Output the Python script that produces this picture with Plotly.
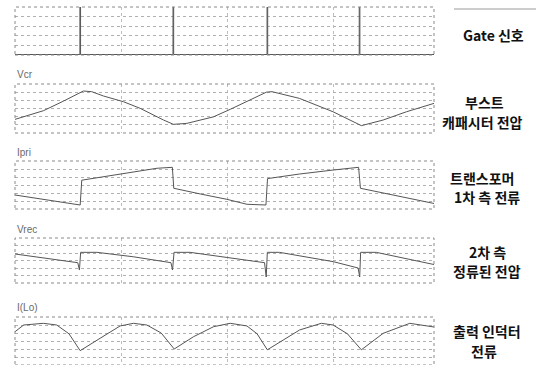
import plotly.graph_objects as go

# ---- data (time in arbitrary units, values in grid divisions) ----
gate_t = [0, 6.97, 6.97, 7.04, 7.04, 16.97, 16.97, 17.04, 17.04, 27.07, 27.07, 27.14, 27.14, 36.97, 36.97, 37.04, 37.04, 45]
gate_v = [0, 0, 5, 5, 0, 0, 5, 5, 0, 0, 5, 5, 0, 0, 5, 5, 0, 0]

vcr_t = [0, 3.05, 5.2, 7.34, 8.24, 9.5, 11.65, 13.44, 15.95, 17.02, 18.46, 21.32, 23.12, 25.27, 27.0, 27.6, 30.54, 34.16, 37.2, 39.54, 42.04, 45.0]
vcr_v = [1.67, 2.73, 3.9, 5.14, 5.06, 4.53, 3.83, 3.02, 1.59, 1.06, 1.18, 1.98, 2.90, 4.04, 5.0, 5.06, 4.24, 2.60, 0.90, 1.59, 2.60, 3.63]

ipri_t = [0, 5.56, 6.74, 7.0, 7.17, 9.14, 12.72, 15.24, 16.9, 17.05, 19.9, 22.76, 24.91, 26.7, 26.95, 27.12, 30.54, 34.16, 36.9, 37.1, 41.3, 44.9, 45]
ipri_v = [1.75, 0.71, 0.5, 0.5, 3.6, 3.96, 4.66, 5.09, 5.21, 2.59, 1.88, 1.21, 0.59, 0.5, 0.5, 3.8, 4.37, 4.87, 5.21, 2.59, 1.54, 0.71, 0.69]

vrec_t = [0, 6.74, 6.92, 7.05, 8.8, 12.7, 16.75, 16.92, 17.08, 18.8, 22.8, 26.8, 26.98, 27.1, 28.4, 34.2, 36.85, 37.02, 37.12, 38.8, 44.9, 45]
vrec_v = [3.87, 2.71, 1.73, 4.09, 4.09, 3.5, 2.71, 1.73, 4.09, 4.09, 3.4, 2.71, 0.8, 4.09, 4.09, 2.84, 2.0, 0.8, 4.09, 4.09, 2.49, 2.46]

ilo_t = [0, 0.93, 3.05, 4.48, 5.8, 7.0, 9.14, 11.29, 12.72, 14.16, 15.7, 17.1, 19.18, 21.33, 23.12, 24.91, 26.0, 27.1, 30.57, 32.9, 34.16, 35.7, 37.2, 39.54, 42.4, 44.55, 45]
ilo_v = [4.16, 5.0, 5.21, 5.0, 3.9, 1.79, 3.34, 4.88, 5.21, 5.0, 4.0, 2.0, 3.54, 4.79, 5.21, 4.88, 3.9, 1.9, 4.38, 5.21, 5.0, 3.9, 1.9, 3.96, 5.21, 4.88, 4.75]

time_grid = [11.4, 22.8, 34.2]
panel_names = ["", "Vcr", "Ipri", "Vrec", "I(Lo)"]
panel_divs = [5, 6, 6, 6, 6]
right_labels = [
    ["Gate 신호"],
    ["부스트", "캐패시터 전압"],
    ["트랜스포머", "1차 측 전류"],
    ["2차 측", "정류된 전압"],
    ["출력 인덕터", "전류"],
]

# ---- layout geometry (pixels) ----
W, H = 536, 365
x_left, x_right = 15, 434
panel_px = [(7, 55), (84, 133), (161, 209), (238, 283), (317, 365)]
label_px_y = [None, 75, 152, 229, 307]
right_px = [
    [(493, 35, "center")],
    [(484, 102, "center"), (440, 122, "left")],
    [(482, 178, "center"), (487, 197, "center")],
    [(487, 252, "center"), (487, 271, "center")],
    [(487, 331, "center"), (484, 351, "center")],
]

series = [(gate_t, gate_v), (vcr_t, vcr_v), (ipri_t, ipri_v), (vrec_t, vrec_v), (ilo_t, ilo_v)]

fig = go.Figure()
layout = dict(
    width=W, height=H, margin=dict(l=0, r=0, t=0, b=0),
    paper_bgcolor="white", plot_bgcolor="white", showlegend=False,
)
shapes = []
annotations = []
for i, ((t, v), (top, bot)) in enumerate(zip(series, panel_px)):
    k = "" if i == 0 else str(i + 1)
    fig.add_trace(go.Scatter(x=t, y=v, mode="lines", xaxis="x" + k, yaxis="y" + k,
                             line=dict(color="#555555", width=1), hoverinfo="skip"))
    ndiv = panel_divs[i]
    ylo = -0.05 if i == 0 else 0
    layout["xaxis" + k] = dict(
        domain=[x_left / W, x_right / W], range=[0, 45], anchor="y" + k,
        tickvals=time_grid, showticklabels=False, ticks="",
        showgrid=True, gridcolor="#bdbdbd", griddash="dot", gridwidth=1,
        zeroline=False, showline=False, fixedrange=True,
    )
    layout["yaxis" + k] = dict(
        domain=[1 - bot / H, 1 - top / H], range=[ylo, ndiv], anchor="x" + k,
        tickvals=list(range(1, ndiv)), showticklabels=False, ticks="",
        showgrid=True, gridcolor="#b0b0b0", griddash="dot", gridwidth=1,
        zeroline=False, showline=False, fixedrange=True,
    )
    shapes.append(dict(type="rect", xref="x" + k + " domain", yref="y" + k + " domain",
                       x0=0, x1=1, y0=0, y1=1, line=dict(color="#8a8a8a", width=1, dash="dot")))
    if panel_names[i]:
        annotations.append(dict(text=panel_names[i], xref="paper", yref="paper",
                                x=x_left / W, y=1 - label_px_y[i] / H, xanchor="left", yanchor="middle",
                                showarrow=False, font=dict(family="Liberation Sans, Arial", size=10, color="#6a6a6a")))
    for txt, (px, py, anc) in zip(right_labels[i], right_px[i]):
        annotations.append(dict(text="<b>" + txt + "</b>", xref="paper", yref="paper",
                                x=px / W, y=1 - py / H, xanchor=anc, yanchor="middle",
                                showarrow=False,
                                font=dict(family="Noto Sans CJK KR", size=14, color="#111111")))

shapes.append(dict(type="line", xref="paper", yref="paper", x0=454 / W, x1=1,
                   y0=1 - 9 / H, y1=1 - 9 / H, line=dict(color="#999999", width=1)))
layout["shapes"] = shapes
layout["annotations"] = annotations
fig.update_layout(**layout)
fig.write_html("out.html", config={"displayModeBar": False, "staticPlot": True},
               post_script="document.body.style.margin='0';document.body.style.overflow='hidden';")
